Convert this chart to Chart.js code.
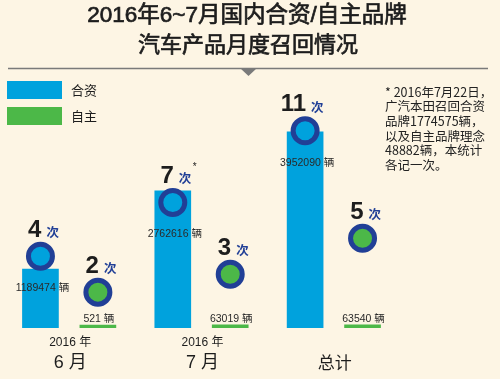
<!DOCTYPE html>
<html><head><meta charset="utf-8">
<script src="https://cdn.jsdelivr.net/npm/chart.js@4/dist/chart.umd.min.js"></script>
<style>html,body{margin:0;padding:0;background:#fdf5e4;}canvas{display:block}</style>
</head><body>
<canvas id="c" width="500" height="379"></canvas>
<script>
// ---- data ----
const titleLines = ["2016年6~7月国内合资/自主品牌", "汽车产品月度召回情况"];
const periodYears = ["2016 年", "2016 年", ""];
const periodMonths = ["6 月", "7 月", "总计"];
const seriesNames = ["合资", "自主"];
const jvVehicles = [1189474, 2762616, 3952090];
const ownVehicles = [521, 63019, 63540];
const jvRecalls = [4, 7, 11];
const ownRecalls = [2, 3, 5];
const recallMarks = ["", "*", ""];
const footnoteLines = ["* 2016年7月22日，", "广汽本田召回合资", "品牌1774575辆，", "以及自主品牌理念", "48882辆，本统计", "各记一次。"];
const unitVehicle = "辆";
const unitTimes = "次";

// ---- styles / layout ----
const BLUE = "#00a2dd", GREEN = "#4cb848", NAVY = "#213f96", INK = "#1d1d1d", GREY = "#7a7a7a";
const CJK = '"Noto Sans CJK SC", sans-serif';
const LAT = '"Liberation Sans", "Noto Sans CJK SC", sans-serif';
const n = periodMonths.length;
const SHIFT = 0.217;      // half-distance between the two bars of a group, in category units
const BAR_W = 36;

const idx = periodMonths.map((_, i) => i);

const decor = {
  id: 'decor',
  beforeDraw(chart) {
    const ctx = chart.ctx;
    ctx.save();
    ctx.fillStyle = INK;
    ctx.strokeStyle = INK;
    ctx.lineWidth = 0.7;
    ctx.textAlign = 'center';
    ctx.textBaseline = 'middle';
    ctx.font = '22.5px ' + LAT;
    ctx.fillText(titleLines[0], 247, 16);
    ctx.strokeText(titleLines[0], 247, 16);
    ctx.font = '22px ' + CJK;
    ctx.fillText(titleLines[1], 248, 44);
    ctx.strokeText(titleLines[1], 248, 44);
    ctx.strokeStyle = GREY;
    ctx.lineWidth = 1.5;
    ctx.beginPath(); ctx.moveTo(8, 68.5); ctx.lineTo(488, 68.5); ctx.stroke();
    ctx.fillStyle = GREY;
    ctx.beginPath(); ctx.moveTo(240, 68); ctx.lineTo(257, 68); ctx.lineTo(248.5, 76); ctx.closePath(); ctx.fill();
    const ds = chart.data.datasets;
    [0, 1].forEach((k, i) => {
      const y = 81 + i * 26;
      ctx.fillStyle = ds[k].backgroundColor;
      ctx.fillRect(7, y, 55, 18);
      ctx.fillStyle = INK;
      ctx.textAlign = 'left';
      ctx.font = '13px ' + CJK;
      ctx.fillText(ds[k].label, 71, y + 9.5);
    });
    ctx.font = '12.5px ' + CJK;
    ctx.fillStyle = '#222';
    footnoteLines.forEach((t, i) => ctx.fillText(t, 385, 92 + i * 14.6));
    ctx.restore();
  },
  afterDatasetsDraw(chart) {
    const ctx = chart.ctx;
    const xs = chart.scales.x, base = chart.chartArea.bottom;
    const jvBars = chart.getDatasetMeta(0).data;
    const ownBars = chart.getDatasetMeta(1).data;
    const jvPts = chart.getDatasetMeta(2).data;
    const ownPts = chart.getDatasetMeta(3).data;
    ctx.save();
    ctx.textBaseline = 'middle';
    ctx.fillStyle = '#2a2a2a';
    ctx.font = '10.5px ' + LAT;
    ctx.textAlign = 'center';
    jvVehicles.forEach((v, i) => ctx.fillText(v + ' ' + unitVehicle, jvBars[i].x + 2, jvPts[i].y + 32));
    ownVehicles.forEach((v, i) => ctx.fillText(v + ' ' + unitVehicle, ownBars[i].x + 1, base - 9));
    const countLabel = (pt, v, mark) => {
      ctx.textAlign = 'right';
      ctx.fillStyle = INK;
      ctx.font = 'bold 24px ' + LAT;
      ctx.fillText(String(v), pt.x + 1, pt.y - 26);
      ctx.textAlign = 'left';
      ctx.fillStyle = NAVY;
      ctx.font = 'bold 12.5px ' + CJK;
      ctx.fillText(unitTimes, pt.x + 6, pt.y - 24);
      if (mark) {
        ctx.fillStyle = INK;
        ctx.font = '10px ' + LAT;
        ctx.fillText(mark, pt.x + 20, pt.y - 35);
      }
    };
    jvRecalls.forEach((v, i) => countLabel(jvPts[i], v, recallMarks[i]));
    ownRecalls.forEach((v, i) => countLabel(ownPts[i], v, ''));
    ctx.textAlign = 'center';
    ctx.fillStyle = INK;
    periodMonths.forEach((m, i) => {
      const x = xs.getPixelForValue(i);
      if (periodYears[i]) {
        ctx.font = '12px ' + LAT;
        ctx.fillText(periodYears[i], x + 1, base + 15);
        ctx.font = '18px ' + LAT;
      } else {
        ctx.font = '17px ' + CJK;
      }
      ctx.fillText(m, x + 1, base + 35);
    });
    ctx.restore();
  }
};

const pointStyle = { pointRadius: 12, pointBorderWidth: 5, pointBorderColor: NAVY, clip: false, order: 1, showLine: false };

new Chart(document.getElementById('c'), {
  type: 'bar',
  data: {
    labels: periodMonths,
    datasets: [
      { type: 'bar', label: seriesNames[0], data: idx.map(i => ({ x: i, y: jvVehicles[i] })),
        backgroundColor: BLUE, barThickness: BAR_W, grouped: false, xAxisID: 'xa', yAxisID: 'y', order: 2 },
      { type: 'bar', label: seriesNames[1], data: idx.map(i => ({ x: i, y: ownVehicles[i] })),
        backgroundColor: GREEN, barThickness: BAR_W, grouped: false, minBarLength: 3, xAxisID: 'xb', yAxisID: 'y', order: 2 },
      Object.assign({ type: 'scatter', label: seriesNames[0] + unitTimes, data: idx.map(i => ({ x: i, y: jvRecalls[i] })),
        xAxisID: 'xa', yAxisID: 'y2', pointBackgroundColor: BLUE }, pointStyle),
      Object.assign({ type: 'scatter', label: seriesNames[1] + unitTimes, data: idx.map(i => ({ x: i, y: ownRecalls[i] })),
        xAxisID: 'xb', yAxisID: 'y2', pointBackgroundColor: GREEN }, pointStyle)
    ]
  },
  options: {
    responsive: false,
    animation: false,
    layout: { autoPadding: false, padding: { left: 3, right: 100, top: 68, bottom: 51 } },
    plugins: { legend: { display: false }, tooltip: { enabled: false }, title: { display: false } },
    scales: {
      x: { type: 'category', display: false, offset: true },
      xa: { type: 'linear', display: false, offset: false, min: -0.5 + SHIFT, max: n - 0.5 + SHIFT },
      xb: { type: 'linear', display: false, offset: false, min: -0.5 - SHIFT, max: n - 0.5 - SHIFT },
      y: { type: 'linear', display: false, min: 0, max: 5240000 },
      y2: { type: 'linear', display: false, min: 0, max: 14.5 }
    }
  },
  plugins: [decor]
});
</script>
</body></html>
